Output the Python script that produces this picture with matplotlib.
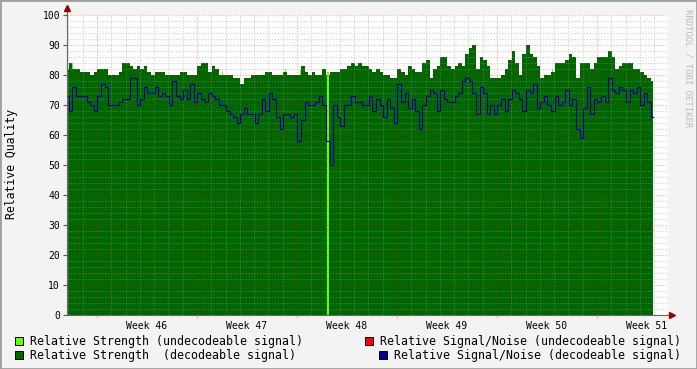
import numpy as np
import matplotlib
matplotlib.use('Agg')
import matplotlib.pyplot as plt
from matplotlib.patches import Rectangle

# samples every 6 hours, first sample at day -2.1 (day 0 = start of week 46)
START_DAY = -2.1
STEP = 0.25

strength = [
    82, 84, 82, 82, 81, 81, 81, 80, 81, 82, 82, 82, 80, 80, 80, 81, 84, 84, 83, 82,
    83, 82, 83, 81, 80, 81, 81, 81,
    80, 80, 80, 80, 81, 81, 80, 80, 80, 83, 84, 84, 81, 83, 82, 80, 80, 80, 80, 79,
    79, 77, 79, 79, 80, 80, 80, 80,
    81, 81, 80, 80, 80, 81, 80, 80, 80, 80, 83, 81, 80, 81, 80, 80, 82, 80, 81, 81,
    81, 82, 82, 83, 84, 83, 84, 83,
    83, 82, 81, 82, 81, 80, 80, 79, 79, 82, 81, 80, 83, 82, 81, 81, 84, 85, 79, 82,
    83, 86, 86, 83, 82, 83, 84, 83,
    87, 89, 90, 82, 86, 85, 83, 79, 79, 79, 80, 82, 85, 88, 84, 80, 87, 90, 87, 86,
    83, 79, 80, 80, 81, 84, 84, 84,
    85, 87, 86, 79, 84, 84, 84, 82, 84, 86, 86, 86, 88, 86, 82, 83, 84, 84, 84, 82,
    82, 81, 80, 79, 78,
]

snr = [
    73, 68, 76, 73, 73, 73, 71, 70, 68, 73, 77, 76, 70, 70, 70, 71, 72, 72, 79, 79,
    70, 72, 76, 74, 74, 76, 73, 74,
    73, 70, 78, 73, 72, 75, 72, 77, 71, 74, 72, 71, 74, 73, 72, 70, 70, 68, 67, 66,
    64, 67, 69, 67, 67, 64, 67, 72,
    68, 74, 72, 66, 62, 67, 67, 66, 67, 58, 65, 71, 70, 70, 71, 73, 70, 58, 50, 70,
    66, 63, 70, 70, 73, 71, 71, 70,
    70, 73, 68, 72, 70, 66, 72, 69, 64, 77, 71, 74, 69, 72, 68, 62, 70, 73, 75, 74,
    68, 75, 72, 71, 71, 73, 74, 78,
    79, 78, 74, 67, 76, 74, 67, 70, 67, 70, 72, 68, 72, 75, 74, 72, 68, 75, 74, 77,
    69, 71, 73, 70, 68, 73, 70, 71,
    75, 70, 72, 62, 59, 69, 76, 67, 72, 71, 73, 71, 79, 75, 74, 76, 75, 71, 75, 74,
    76, 70, 74, 71, 66,
]

# short bursts of undecodeable signal (most only poke out above the decodeable area)
undec_days = [-1.75, 8.75, 13.16, 14.21, 31.85, 34.72]
undec_strength = [84, 81, 82, 82, 82, 82]
# one full outage of the decodeable signal
outage_days = [16.17]
outage_strength = [81]

week_labels = ['Week 46', 'Week 47', 'Week 48', 'Week 49', 'Week 50', 'Week 51']

W, H = 697, 369
plt.rcParams['font.family'] = 'DejaVu Sans Mono'
fig = plt.figure(figsize=(W / 100, H / 100), dpi=100, facecolor='#f3f3f3')
ax = fig.add_axes([67 / W, 1 - 315 / H, (668 - 67) / W, 300 / H])
ax.set_facecolor('white')

days = START_DAY + STEP * np.arange(len(strength))

ax.bar(undec_days, undec_strength, width=0.07, color='#66ff00', lw=0, zorder=1.5)
ax.fill_between(days, 0, strength, step='mid', color='#006600', lw=0, zorder=2)
ax.bar(outage_days, outage_strength, width=0.14, color='#66ff00', lw=0, zorder=2.5)
ax.step(days, snr, where='mid', color='#000099', lw=0.8, zorder=5)

ax.set_xlim(START_DAY, (668 - 97) / (100 / 7))
ax.set_ylim(0, 100)

# grid, rrdtool style (drawn over the areas)
dots = (0, (1.5, 1.5))
for d in range(-2, 40):
    if d % 7 == 0:
        ax.axvline(d, color='#ff0000', alpha=0.3, lw=0.7, ls=dots, zorder=4)
    else:
        ax.axvline(d, color='#999999', alpha=0.4, lw=0.7, ls=dots, zorder=4)
for v in range(2, 101, 2):
    if v % 10 == 0:
        ax.axhline(v, color='#ff0000', alpha=0.3, lw=0.7, ls=dots, zorder=4)
    else:
        ax.axhline(v, color='#999999', alpha=0.4, lw=0.7, ls=dots, zorder=4)

ax.set_yticks(range(0, 101, 10))
ax.tick_params(axis='y', length=3, width=0.8, color='#555555', labelsize=7, pad=2)
ax.set_xticks(np.arange(3.5, 40, 7), week_labels)
ax.tick_params(axis='x', which='major', length=0, labelsize=7, pad=4)
ax.set_xticks(np.arange(0, 40, 7), minor=True)
ax.tick_params(axis='x', which='minor', length=2, color='#ff9999')

for s in ['top', 'right']:
    ax.spines[s].set_visible(False)
for s in ['left', 'bottom']:
    ax.spines[s].set_color('#666666')
    ax.spines[s].set_linewidth(0.8)
    ax.spines[s].set_zorder(6)
ax.plot([0, 0], [1, 1.025], color='#666666', lw=0.8, transform=ax.transAxes, clip_on=False)
ax.plot([1, 1.006], [0, 0], color='#666666', lw=0.8, transform=ax.transAxes, clip_on=False)
ax.plot([0], [1.025], marker='^', ms=4, color='#990000', transform=ax.transAxes, clip_on=False)
ax.plot([1.006], [0], marker='>', ms=4, color='#990000', transform=ax.transAxes, clip_on=False)

fig.text(12 / W, 1 - 164 / H, 'Relative Quality', rotation=90, fontsize=8.3,
         ha='center', va='center')
fig.text(688 / W, 1 - 68 / H, 'RRDTOOL / TOBI OETIKER', rotation=270, fontsize=6.5,
         color='#bbbbbb', ha='center', va='center')

# legend
legend = [
    (15, 341, '#66ff00', 30, 'Relative Strength (undecodeable signal)'),
    (365, 341, '#ff0000', 380, 'Relative Signal/Noise (undecodeable signal)'),
    (15, 355, '#006600', 30, 'Relative Strength  (decodeable signal)'),
    (379, 355, '#000099', 394, 'Relative Signal/Noise (decodeable signal)'),
]
for bx, by, col, tx, label in legend:
    fig.add_artist(Rectangle((bx / W, 1 - (by + 4) / H), 8 / W, 8 / H, facecolor=col,
                             edgecolor='black', lw=0.7, transform=fig.transFigure))
    fig.text(tx / W, 1 - by / H, label, fontsize=8.4, ha='left', va='center')

# outer frame
fig.add_artist(Rectangle((0, 0), 1, 1, fill=False, edgecolor='#a0a0a0', lw=2,
                         transform=fig.transFigure))

fig.savefig('out.png', dpi=100, facecolor=fig.get_facecolor())
